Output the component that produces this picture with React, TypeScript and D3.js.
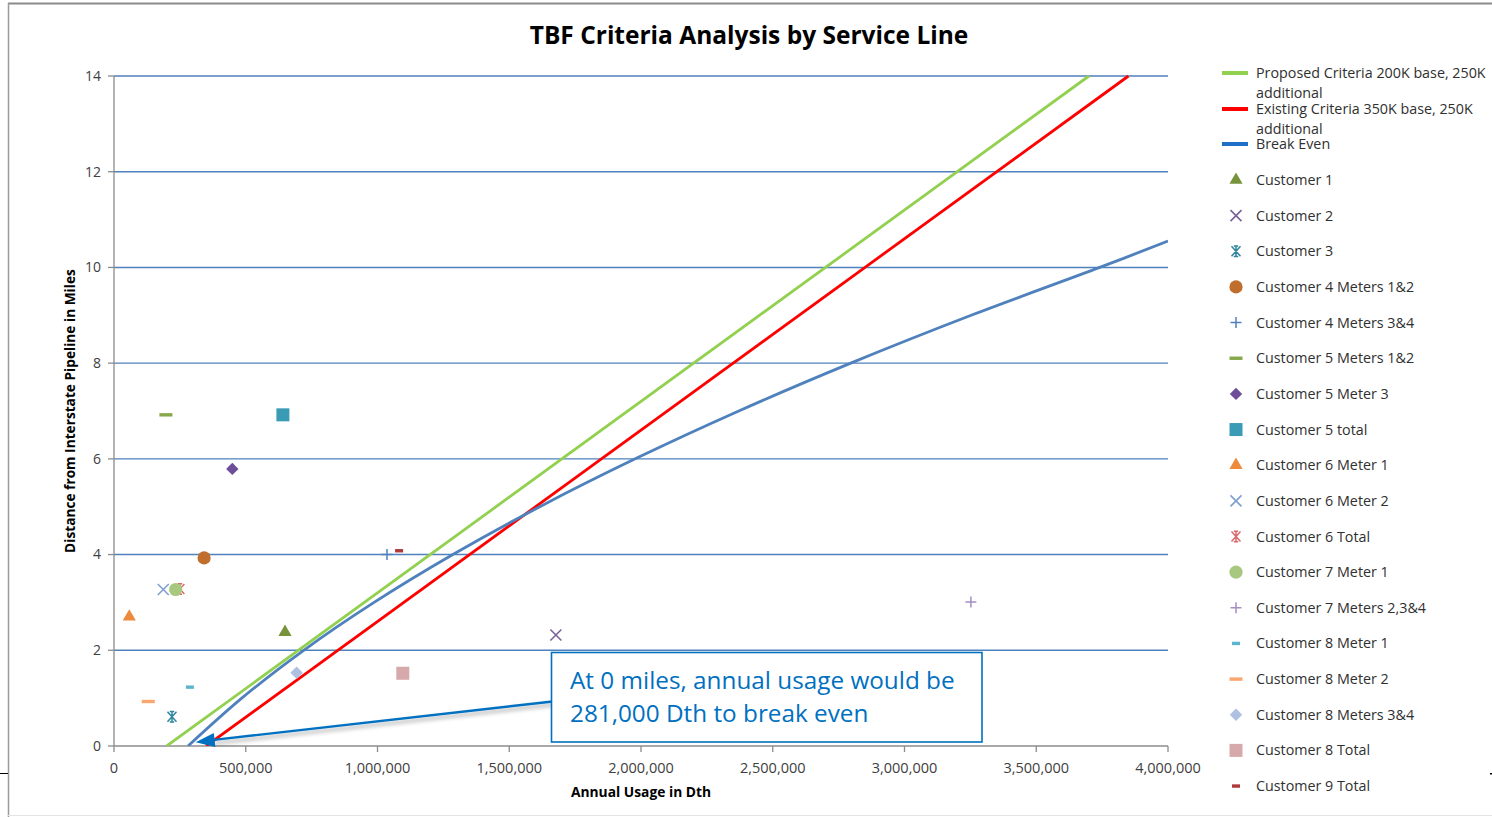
import React from 'react';
import * as d3 from 'd3';

// ---------- data ----------
const xTickValues = [0, 500000, 1000000, 1500000, 2000000, 2500000, 3000000, 3500000, 4000000];
const yTickValues = [0, 2, 4, 6, 8, 10, 12, 14];

const proposedCriteria = [
  { usage: 200000, miles: 0 },
  { usage: 3700000, miles: 14 },
];
const existingCriteria = [
  { usage: 350000, miles: 0 },
  { usage: 3850000, miles: 14 },
];
const breakEven = [
  { usage: 281000, miles: 0 },
  { usage: 485000, miles: 1 },
  { usage: 720000, miles: 2 },
  { usage: 987000, miles: 3 },
  { usage: 1286000, miles: 4 },
  { usage: 1616000, miles: 5 },
  { usage: 1978000, miles: 6 },
  { usage: 2371000, miles: 7 },
  { usage: 2796000, miles: 8 },
  { usage: 3253000, miles: 9 },
  { usage: 3741000, miles: 10 },
  { usage: 4000000, miles: 10.55 },
];

const lineNames = [
  ['Proposed Criteria 200K base, 250K', 'additional'],
  ['Existing Criteria 350K base, 250K', 'additional'],
  ['Break Even'],
];
const lineData = [proposedCriteria, existingCriteria, breakEven];
const lineColors = ['#92D050', '#FF0000', '#4F81BD'];
const lineLegendColors = ['#92D050', '#FF0000', '#1F6FC6'];

const customerNames = [
  'Customer 1', 'Customer 2', 'Customer 3', 'Customer 4 Meters 1&2', 'Customer 4 Meters 3&4',
  'Customer 5 Meters 1&2', 'Customer 5 Meter 3', 'Customer 5 total', 'Customer 6 Meter 1',
  'Customer 6 Meter 2', 'Customer 6 Total', 'Customer 7 Meter 1', 'Customer 7 Meters 2,3&4',
  'Customer 8 Meter 1', 'Customer 8 Meter 2', 'Customer 8 Meters 3&4', 'Customer 8 Total',
  'Customer 9 Total',
];
const customerUsage = [
  649000, 1677000, 220000, 342000, 1036000,
  197000, 449000, 641000, 58000,
  187000, 250000, 234000, 3252000,
  288000, 130000, 693000, 1096000,
  1082000,
];
const customerMiles = [
  2.38, 2.32, 0.61, 3.93, 4.0,
  6.92, 5.79, 6.92, 2.7,
  3.27, 3.28, 3.27, 3.01,
  1.23, 0.93, 1.53, 1.52,
  4.08,
];
const customerMarkers = [
  'triangle', 'x', 'star', 'circle', 'plus',
  'dash', 'diamond', 'square', 'triangle',
  'x', 'star', 'circle', 'plus',
  'smalldash', 'dash', 'diamond', 'square',
  'smalldash',
];
const customerColors = [
  '#77933C', '#7A6296', '#31859C', '#BF6E2E', '#4F81BD',
  '#86A84A', '#6E4E98', '#3A9BB5', '#EE8A3C',
  '#7F9FD0', '#D96A6A', '#A9C87F', '#A48FC4',
  '#5BB5CE', '#F9A66F', '#AFC1E2', '#D6A9AA',
  '#B0393A',
];

// ---------- layout ----------
const W = 1492;
const H = 817;
const FONT = "'Open Sans', 'Noto Sans', sans-serif";

const x = d3.scaleLinear().domain([0, 4000000]).range([114, 1168]);
const y = d3.scaleLinear().domain([0, 14]).range([746, 76]);
const fmt = d3.format(',');

function Marker({ type, color, cx, cy }: { type: string; color: string; cx: number; cy: number }) {
  const t = `translate(${cx},${cy})`;
  switch (type) {
    case 'triangle':
      return <path transform={t} d={d3.symbol(d3.symbolTriangle, 75)() || ''} fill={color} />;
    case 'circle':
      return <circle cx={cx} cy={cy} r={6.6} fill={color} />;
    case 'square':
      return <rect x={cx - 6.5} y={cy - 6.5} width={13} height={13} fill={color} />;
    case 'diamond':
      return <path transform={t} d="M0,-6.2L6.2,0L0,6.2L-6.2,0Z" fill={color} />;
    case 'x':
      return <path transform={t} d="M-5.5,-5.5L5.5,5.5M-5.5,5.5L5.5,-5.5" stroke={color} strokeWidth={1.6} fill="none" />;
    case 'plus':
      return <path transform={t} d="M-5.5,0L5.5,0M0,-5.5L0,5.5" stroke={color} strokeWidth={1.5} fill="none" />;
    case 'star':
      return (
        <path transform={t} d="M-4.5,-5L4.5,5M-4.5,5L4.5,-5M0,-5.5L0,5.5M-2.2,-5.2L2.2,-5.2M-2.2,5.2L2.2,5.2"
          stroke={color} strokeWidth={1.5} fill="none" />
      );
    case 'dash':
      return <rect x={cx - 6.5} y={cy - 1.7} width={13} height={3.4} fill={color} />;
    case 'smalldash':
      return <rect x={cx - 4} y={cy - 1.7} width={8} height={3.4} fill={color} />;
    default:
      return null;
  }
}

export default function App() {
  const lineGen = d3
    .line<{ usage: number; miles: number }>()
    .x((d) => x(d.usage))
    .y((d) => y(d.miles))
    .curve(d3.curveCatmullRom);

  const legendX = 1236;
  const lineLegendY = [73, 109, 144];
  const custLegendY0 = 180;
  const custLegendStep = 35.65;

  const arrowTip = [x(310000), y(0.08)];
  const arrowStart = [557, 701];

  return (
    <svg width={W} height={H} style={{ position: 'absolute', left: 0, top: 0, background: '#fff' }}
      fontFamily={FONT}>
      <defs>
        <clipPath id="plotClip">
          <rect x={114} y={60} width={1054} height={686} />
        </clipPath>
        <filter id="shadow" x="-20%" y="-50%" width="140%" height="200%">
          <feDropShadow dx={2} dy={3} stdDeviation={2} floodColor="#000" floodOpacity={0.35} />
        </filter>
      </defs>

      {/* outer frame */}
      <line x1={8} x2={W} y1={3.5} y2={3.5} stroke="#8a8a8a" strokeWidth={2} />
      <line x1={8.5} x2={8.5} y1={3} y2={H} stroke="#9a9a9a" strokeWidth={1.5} />
      <line x1={8} x2={W} y1={815.5} y2={815.5} stroke="#e4e4e4" strokeWidth={1} />
      <line x1={0} x2={8} y1={773.5} y2={773.5} stroke="#000" strokeWidth={1} />
      <rect x={1490} y={773} width={2} height={1.5} fill="#000" />

      {/* title */}
      <text x={749} y={35} dy="0.35em" textAnchor="middle" fontSize={24.5} fontWeight={700} fill="#000">
        TBF Criteria Analysis by Service Line
      </text>

      {/* gridlines */}
      {yTickValues.filter((v) => v > 0).map((v) => (
        <line key={v} x1={114} x2={1168} y1={y(v)} y2={y(v)} stroke="#4F81BD" strokeWidth={1.4} />
      ))}

      {/* axes */}
      <line x1={114} x2={114} y1={y(14)} y2={y(0)} stroke="#8c8c8c" strokeWidth={1.3} />
      <line x1={114} x2={1168} y1={y(0)} y2={y(0)} stroke="#8c8c8c" strokeWidth={1.3} />
      {yTickValues.map((v) => (
        <g key={v}>
          <line x1={108} x2={114} y1={y(v)} y2={y(v)} stroke="#8c8c8c" strokeWidth={1.3} />
          <text x={101} y={y(v)} dy="0.35em" textAnchor="end" fontSize={14} fill="#404040">
            {v}
          </text>
        </g>
      ))}
      {xTickValues.map((v) => (
        <g key={v}>
          <line x1={x(v)} x2={x(v)} y1={y(0)} y2={y(0) + 6} stroke="#8c8c8c" strokeWidth={1.3} />
          <text x={x(v)} y={768} dy="0.35em" textAnchor="middle" fontSize={14.5} fill="#404040">
            {fmt(v)}
          </text>
        </g>
      ))}

      {/* axis titles */}
      <text transform={`translate(70,411) rotate(-90)`} textAnchor="middle" fontSize={13.7}
        fontWeight={700} fill="#000" dy="0.35em">
        Distance from Interstate Pipeline in Miles
      </text>
      <text x={641} y={792} dy="0.35em" textAnchor="middle" fontSize={13.8} fontWeight={700} fill="#000">
        Annual Usage in Dth
      </text>

      {/* criteria lines */}
      <g clipPath="url(#plotClip)">
        {lineData.map((data, i) => (
          <path key={i} d={lineGen(data) || ''} fill="none" stroke={lineColors[i]} strokeWidth={2.8} />
        ))}
      </g>

      {/* customer points */}
      {customerNames.map((name, i) => (
        <Marker key={name} type={customerMarkers[i]} color={customerColors[i]}
          cx={x(customerUsage[i])} cy={y(customerMiles[i])} />
      ))}

      {/* annotation */}
      <g filter="url(#shadow)">
        <line x1={arrowStart[0]} y1={arrowStart[1]} x2={arrowTip[0] + 16} y2={arrowTip[1] - 2}
          stroke="#0070C0" strokeWidth={2.4} />
      </g>
      <path
        d={(() => {
          const [tx, ty] = arrowTip;
          const ang = Math.atan2(arrowStart[1] - ty, arrowStart[0] - tx);
          const L = 19, Wd = 7;
          const bx = tx + L * Math.cos(ang), by = ty + L * Math.sin(ang);
          const px = -Math.sin(ang) * Wd, py = Math.cos(ang) * Wd;
          return `M${tx},${ty}L${bx + px},${by + py}L${bx - px},${by - py}Z`;
        })()}
        fill="#0070C0"
      />
      <rect x={551.5} y={652.5} width={430.5} height={89.5} fill="#fff" stroke="#0070C0" strokeWidth={1.6} />
      <text x={570} y={680} dy="0.35em" fontSize={24.3} fill="#0070C0">At 0 miles, annual usage would be</text>
      <text x={570} y={713} dy="0.35em" fontSize={24.3} fill="#0070C0">281,000 Dth to break even</text>

      {/* legend */}
      {lineNames.map((lines, i) => (
        <g key={i}>
          <line x1={1222} x2={1248} y1={lineLegendY[i]} y2={lineLegendY[i]} stroke={lineLegendColors[i]}
            strokeWidth={4} />
          {lines.map((s, j) => (
            <text key={j} x={1256} y={lineLegendY[i] + j * 20} dy="0.35em" fontSize={14.3} fill="#303030">
              {s}
            </text>
          ))}
        </g>
      ))}
      {customerNames.map((name, i) => {
        const ly = custLegendY0 + i * custLegendStep;
        return (
          <g key={name}>
            <Marker type={customerMarkers[i]} color={customerColors[i]} cx={legendX} cy={ly} />
            <text x={1256} y={ly} dy="0.35em" fontSize={14.3} fill="#303030">
              {name}
            </text>
          </g>
        );
      })}
    </svg>
  );
}
